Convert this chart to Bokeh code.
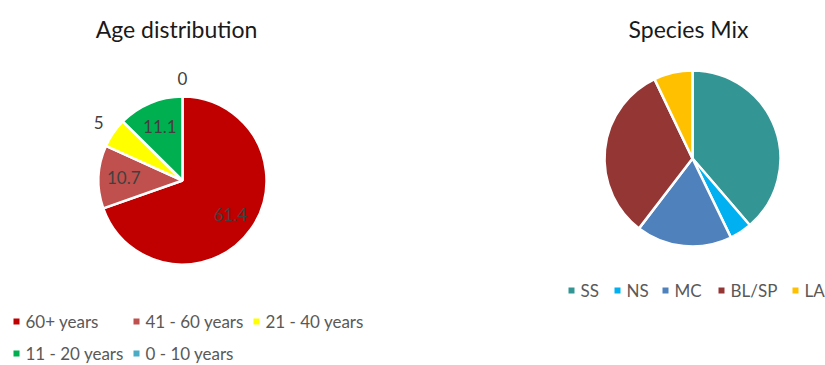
import math
from bokeh.plotting import figure
from bokeh.models import ColumnDataSource
from bokeh.core.properties import value
from bokeh.embed import file_html
from bokeh.resources import INLINE

# ---------------- data ----------------
age_categories = ["60+ years", "41 - 60 years", "21 - 40 years", "11 - 20 years", "0 - 10 years"]
age_values = [61.4, 10.7, 5, 11.1, 0]
age_labels = ["61.4", "10.7", "5", "11.1", "0"]
age_colors = ["#C00000", "#C0504D", "#FFFF00", "#00B050", "#4BACC6"]

species_categories = ["SS", "NS", "MC", "BL/SP", "LA"]
species_values = [38.7, 4.1, 17.6, 32.5, 7.1]
species_colors = ["#339695", "#00B0F0", "#4F81BD", "#943634", "#FFC000"]

# ---------------- layout ----------------
W, H = 825, 365
FONT = "Lato"


def X(px):
    return px


def Y(py):
    return H - py


p = figure(width=W, height=H, x_range=(0, W), y_range=(0, H),
           output_backend="svg", toolbar_location=None, min_border=0,
           background_fill_color="white", border_fill_color="white")
p.axis.visible = False
p.grid.visible = False
p.outline_line_color = None


def pie(cx, cy, r, values, colors, labels=None):
    total = sum(values)
    starts, ends, cols = [], [], []
    allmids = []
    acc = 0.0
    for v, c in zip(values, colors):
        a0 = acc / total * 2 * math.pi
        acc += v
        a1 = acc / total * 2 * math.pi
        allmids.append((a0 + a1) / 2)
        if v <= 0:
            continue
        # clockwise from top -> bokeh counterclockwise from +x
        starts.append(math.pi / 2 - a1)
        ends.append(math.pi / 2 - a0)
        cols.append(c)
    src = ColumnDataSource(dict(start=starts, end=ends, color=cols))
    p.wedge(x=cx, y=cy, radius=r, start_angle="start", end_angle="end",
            fill_color="color", line_color="white", line_width=2.5, source=src,
            direction="anticlock")
    if labels:
        lx, ly = [], []
        for v, m in zip(values, allmids):
            f = 0.7 if v / total > 0.08 else 1.21
            lx.append(cx + f * r * math.sin(m))
            ly.append(cy + f * r * math.cos(m))
        p.text(x=lx, y=ly, text=labels, text_font=value(FONT), text_font_size="17px",
               text_color="#404040", text_align="center", text_baseline="middle")


# Age distribution pie
pie(X(182), Y(180), 84, age_values, age_colors, age_labels)
p.text(x=[X(176)], y=[Y(28)], text=["Age distribution"], text_font=value(FONT),
       text_font_size="23px", text_color="#1a1a1a", text_align="center", text_baseline="middle")

# Species pie
pie(X(692), Y(158), 88, species_values, species_colors)
p.text(x=[X(688)], y=[Y(28)], text=["Species Mix"], text_font=value(FONT),
       text_font_size="23px", text_color="#1a1a1a", text_align="center", text_baseline="middle")

# legends
age_leg_pos = [(16, 321), (136, 321), (256, 321), (16, 353), (136, 353)]
sp_leg_pos = [(571, 290), (617, 290), (665, 290), (721, 290), (795, 290)]


def legend(items, colors, pos):
    mx = [X(a) for a, b in pos]
    my = [Y(b) for a, b in pos]
    p.scatter(x=mx, y=my, marker="square", size=6, fill_color=colors, line_color=None)
    p.text(x=[m + 9 for m in mx], y=my, text=items, text_font=value(FONT),
           text_font_size="17px", text_color="#595959", text_align="left",
           text_baseline="middle")


legend(age_categories, age_colors, age_leg_pos)
legend(species_categories, species_colors, sp_leg_pos)

open("out.html", "w").write(file_html(p, INLINE))
